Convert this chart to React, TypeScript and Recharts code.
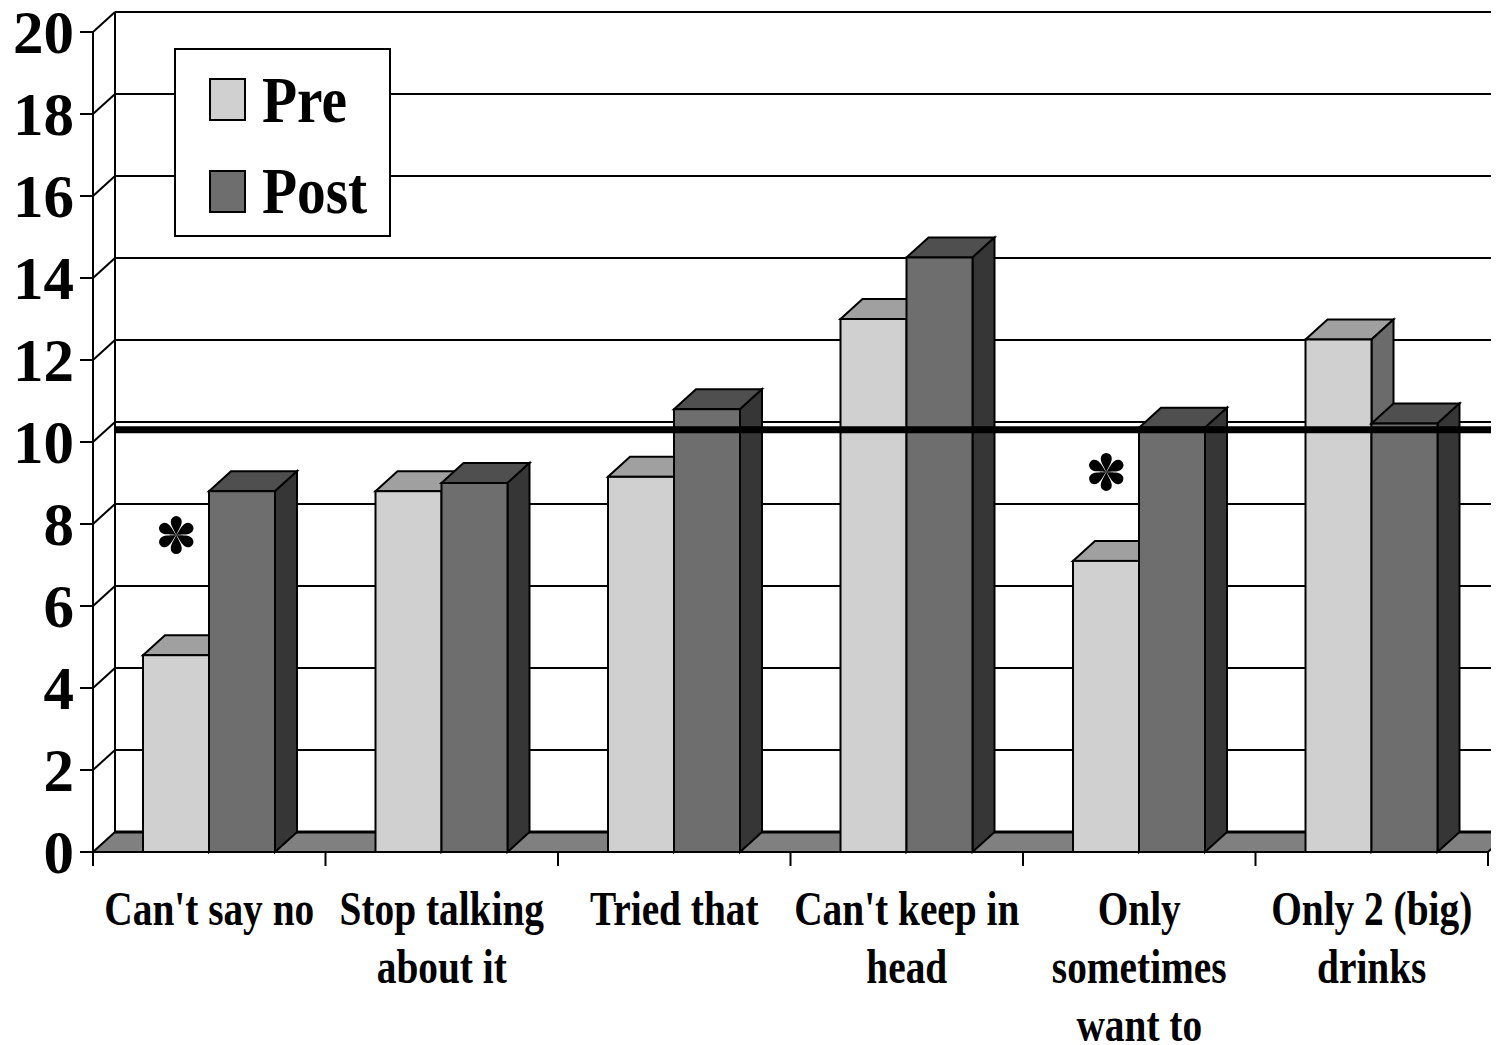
import { ComposedChart, Bar, Line, XAxis, YAxis, CartesianGrid, ReferenceLine, Legend } from "recharts";

// Values
const categories = [
  "Can't say no",
  "Stop talking\nabout it",
  "Tried that",
  "Can't keep in\nhead",
  "Only\nsometimes\nwant to",
  "Only 2 (big)\ndrinks",
];
const seriesNames = ["Pre", "Post"];
const preValues = [4.8, 8.8, 9.15, 13.0, 7.1, 12.5];
const postValues = [8.8, 9.0, 10.8, 14.5, 10.35, 10.45];
// asterisk marks (significant differences), placed at these heights
const asteriskValues: (number | null)[] = [7.73, null, null, null, 9.27, null];
const yTicks = [0, 2, 4, 6, 8, 10, 12, 14, 16, 18, 20];
const thresholdValue = 10.3;

const data = categories.map((name, i) => ({
  name,
  pre: preValues[i],
  post: postValues[i],
  star: asteriskValues[i],
}));

const W = 1491;
const H = 1037;
const MARGIN = { top: 24, right: 11, bottom: 0, left: 0 };
const Y_AXIS_W = 85;
const BAND = (W - MARGIN.right - Y_AXIS_W) / categories.length;
const BAR_SIZE = 66;
const DX = 22;
const DY = 20;
const FONT = "'Liberation Serif', 'Times New Roman', serif";

const PRE = { front: "#d0d0d0", top: "#a0a0a0", side: "#6b6b6b" };
const POST = { front: "#6e6e6e", top: "#4f4f4f", side: "#363636" };

const make3DBar = (topFill: string, sideFill: string) => (p: any) => {
  const { x, y, width: w, height: h, fill } = p;
  if (h == null || isNaN(y)) return <g />;
  return (
    <g stroke="#000" strokeWidth={2} strokeLinejoin="miter">
      <polygon points={`${x},${y} ${x + DX},${y - DY} ${x + w + DX},${y - DY} ${x + w},${y}`} fill={topFill} />
      <polygon points={`${x + w},${y} ${x + w + DX},${y - DY} ${x + w + DX},${y + h - DY} ${x + w},${y + h}`} fill={sideFill} />
      <rect x={x} y={y} width={w} height={h} fill={fill} />
    </g>
  );
};

// back wall + left wall + floor, drawn from the y axis grid
const gridLine = (p: any) => {
  const { x1, y1, x2 } = p;
  const bottom = p.y != null && p.height != null ? p.y + p.height : null;
  const top = p.y;
  const key = `grid-${y1}`;
  if (bottom != null && Math.abs(y1 - bottom) < 1) {
    return (
      <g key={key}>
        <polygon
          points={`${x1},${y1} ${x1 + DX},${y1 - DY} ${x2 + DX},${y1 - DY} ${x2},${y1}`}
          fill="#808080"
          stroke="#000"
          strokeWidth={2}
        />
        <line x1={x1 + DX} y1={y1 - DY} x2={x2 + DX + 40} y2={y1 - DY} stroke="#000" strokeWidth={3} />
      </g>
    );
  }
  return (
    <g key={key}>
      <line x1={x1} y1={y1} x2={x1 + DX} y2={y1 - DY} stroke="#000" strokeWidth={2} />
      <line x1={x1 + DX} y1={y1 - DY} x2={x2 + DX + 40} y2={y1 - DY} stroke="#000" strokeWidth={2} />
      {top != null && Math.abs(y1 - top) < 1 && bottom != null && (
        <line x1={x1 + DX} y1={y1 - DY} x2={x1 + DX} y2={bottom - DY} stroke="#000" strokeWidth={2} />
      )}
    </g>
  );
};

const YTick = (p: any) => (
  <text
    x={p.x}
    y={p.y + 21}
    textAnchor="end"
    fontFamily={FONT}
    fontWeight="bold"
    fontSize={61}
    fill="#000"
  >
    {p.payload.value}
  </text>
);

const XTick = (p: any) => {
  const { x, y, payload, index } = p;
  const lines = String(payload.value).split("\n");
  const half = BAND / 2;
  return (
    <g>
      <line x1={x - half} y1={y} x2={x - half} y2={y + 14} stroke="#000" strokeWidth={2} />
      {index === categories.length - 1 && (
        <line x1={x + half} y1={y} x2={x + half} y2={y + 14} stroke="#000" strokeWidth={2} />
      )}
      <text
        transform={`translate(${x},${y}) scale(0.82,1)`}
        textAnchor="middle"
        fontFamily={FONT}
        fontWeight="bold"
        fontSize={48}
        fill="#000"
      >
        {lines.map((l, i) => (
          <tspan key={i} x={0} y={73 + i * 58}>
            {l}
          </tspan>
        ))}
      </text>
    </g>
  );
};

const AsteriskDot = (p: any) => {
  const { cx, cy, value, index } = p;
  if (value == null || cy == null || isNaN(cy)) return <g key={`ast-${index}`} />;
  const petal = "M0,0 C-2,-5 -5.5,-9 -5.5,-13.5 A5.5,5.5 0 1 1 5.5,-13.5 C5.5,-9 2,-5 0,0 Z";
  return (
    <g key={`ast-${index}`} transform={`translate(${cx - BAR_SIZE / 2},${cy})`}>
      {[0, 60, 120, 180, 240, 300].map((a) => (
        <path key={a} d={petal} transform={`rotate(${a})`} fill="#000" />
      ))}
    </g>
  );
};

const LegendBox = (props: any) => {
  const items = (props.payload || [])
    .filter((e: any) => e.type !== "none" && seriesNames.includes(e.value))
    .sort((a: any, b: any) => seriesNames.indexOf(a.value) - seriesNames.indexOf(b.value));
  return (
    <svg width={217} height={189} style={{ display: "block" }}>
      <rect x={1} y={1} width={215} height={187} fill="#fff" stroke="#000" strokeWidth={2} />
      {items.map((e: any, i: number) => (
        <g key={e.value}>
          <rect x={36} y={31 + i * 92} width={35} height={41} fill={e.color} stroke="#000" strokeWidth={2} />
          <text
            transform={`translate(88,${74 + i * 91}) scale(0.87,1)`}
            fontFamily={FONT}
            fontWeight="bold"
            fontSize={66}
            fill="#000"
          >
            {e.value}
          </text>
        </g>
      ))}
    </svg>
  );
};

export default function App() {
  return (
    <div style={{ width: W, height: H }}>
      <ComposedChart width={W} height={H} data={data} margin={MARGIN} barGap={0} barSize={BAR_SIZE}>
        <CartesianGrid horizontal={gridLine} vertical={false} />
        <XAxis
          dataKey="name"
          interval={0}
          height={193}
          tickSize={0}
          tickMargin={0}
          tick={<XTick />}
          axisLine={{ stroke: "#000", strokeWidth: 2 }}
          tickLine={false}
        />
        <YAxis
          width={Y_AXIS_W}
          domain={[0, 20]}
          ticks={yTicks}
          interval={0}
          tickSize={13}
          tickMargin={6}
          tick={<YTick />}
          axisLine={{ stroke: "#000", strokeWidth: 2 }}
          tickLine={{ stroke: "#000", strokeWidth: 2 }}
        />
        <Legend
          layout="vertical"
          align="center"
          verticalAlign="middle"
          content={<LegendBox />}
          wrapperStyle={{ left: 166, top: 40, width: 217, height: 189 }}
        />
        <Bar dataKey="pre" name={seriesNames[0]} fill={PRE.front} shape={make3DBar(PRE.top, PRE.side)} isAnimationActive={false} />
        <Bar dataKey="post" name={seriesNames[1]} fill={POST.front} shape={make3DBar(POST.top, POST.side)} isAnimationActive={false} />
        <Line
          dataKey="star"
          stroke="none"
          legendType="none"
          dot={<AsteriskDot />}
          activeDot={false}
          isAnimationActive={false}
        />
        <ReferenceLine
          y={thresholdValue}
          shape={(p: any) => (
            <line x1={p.x1 + DX} y1={p.y1} x2={p.x2 + 40} y2={p.y2} stroke="#000" strokeWidth={7} />
          )}
        />
      </ComposedChart>
    </div>
  );
}
